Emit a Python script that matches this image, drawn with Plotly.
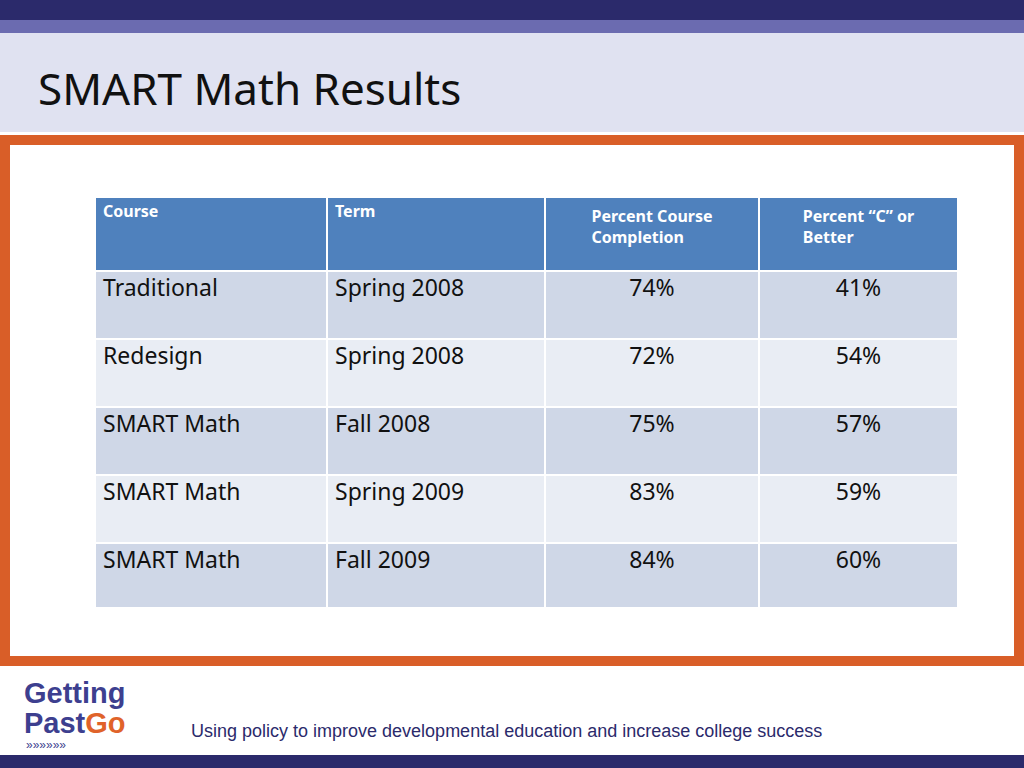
import plotly.graph_objects as go

headers = ["Course", "Term", "Percent Course<br>Completion", "Percent “C” or<br>Better"]
courses = ["Traditional", "Redesign", "SMART Math", "SMART Math", "SMART Math"]
terms = ["Spring 2008", "Spring 2008", "Fall 2008", "Spring 2009", "Fall 2009"]
completion = ["74%", "72%", "75%", "83%", "84%"]
c_or_better = ["41%", "54%", "57%", "59%", "60%"]

W, H = 1024, 768
def py(p):
    return 1 - p / H

row_fill = ["#cfd7e7" if i % 2 == 0 else "#e9edf4" for i in range(len(courses))]

fig = go.Figure(go.Table(
    domain=dict(x=[95 / W, 958 / W], y=[py(607), py(197)]),
    columnwidth=[232, 218, 214, 199],
    header=dict(values=headers, fill_color="#4f81bd", height=74,
                line=dict(color="white", width=2),
                align=["left", "left", "center", "center"],
                font=dict(family="Noto Sans", size=16, color="white", weight="bold")),
    cells=dict(values=[courses, terms, completion, c_or_better],
               fill_color=[row_fill] * 4, height=68,
               line=dict(color="white", width=2),
               align=["left", "left", "center", "center"],
               font=dict(family="Noto Sans", size=23, color="#111111")),
))

shapes = [
    dict(type="rect", xref="paper", yref="paper", x0=0, x1=1, y0=py(20), y1=1,
         fillcolor="#2b2a6b", line_width=0, layer="below"),
    dict(type="rect", xref="paper", yref="paper", x0=0, x1=1, y0=py(33), y1=py(20),
         fillcolor="#6b6bb0", line_width=0, layer="below"),
    dict(type="rect", xref="paper", yref="paper", x0=0, x1=1, y0=py(132), y1=py(33),
         fillcolor="#e0e2f1", line_width=0, layer="below"),
    dict(type="rect", xref="paper", yref="paper", x0=5 / W, x1=1019 / W, y0=py(661), y1=py(140),
         fillcolor="white", line=dict(color="#d95e28", width=10), layer="below"),
    dict(type="rect", xref="paper", yref="paper", x0=0, x1=1, y0=0, y1=py(755),
         fillcolor="#2b2a6b", line_width=0, layer="below"),
]

annotations = [
    dict(text="SMART Math Results", x=36 / W, y=py(88), xref="paper", yref="paper",
         xanchor="left", yanchor="middle", showarrow=False,
         font=dict(family="Noto Sans", size=44, color="#111111")),
    dict(text="<b>Getting</b>", x=22 / W, y=py(693), xref="paper", yref="paper",
         xanchor="left", yanchor="middle", showarrow=False,
         font=dict(family="Liberation Sans", size=29, color="#3d3f8f")),
    dict(text="<b>Past</b><b><span style='color:#e0632a'>Go</span></b>", x=22 / W, y=py(723),
         xref="paper", yref="paper", xanchor="left", yanchor="middle", showarrow=False,
         font=dict(family="Liberation Sans", size=29, color="#3d3f8f")),
    dict(text="»»»»»»", x=24 / W, y=py(745), xref="paper", yref="paper",
         xanchor="left", yanchor="middle", showarrow=False,
         font=dict(family="Liberation Sans", size=12, color="#3d3f8f")),
    dict(text="Using policy to improve developmental education and increase college success",
         x=189 / W, y=py(731), xref="paper", yref="paper", xanchor="left", yanchor="middle",
         showarrow=False,
         font=dict(family="Liberation Sans", size=18, color="#2b2a6b")),
]

fig.update_layout(width=W, height=H, margin=dict(l=0, r=0, t=0, b=0),
                  paper_bgcolor="white", plot_bgcolor="white",
                  shapes=shapes, annotations=annotations)
fig.write_html("out.html", config={"displayModeBar": False},
               post_script="document.body.style.margin='0';")
